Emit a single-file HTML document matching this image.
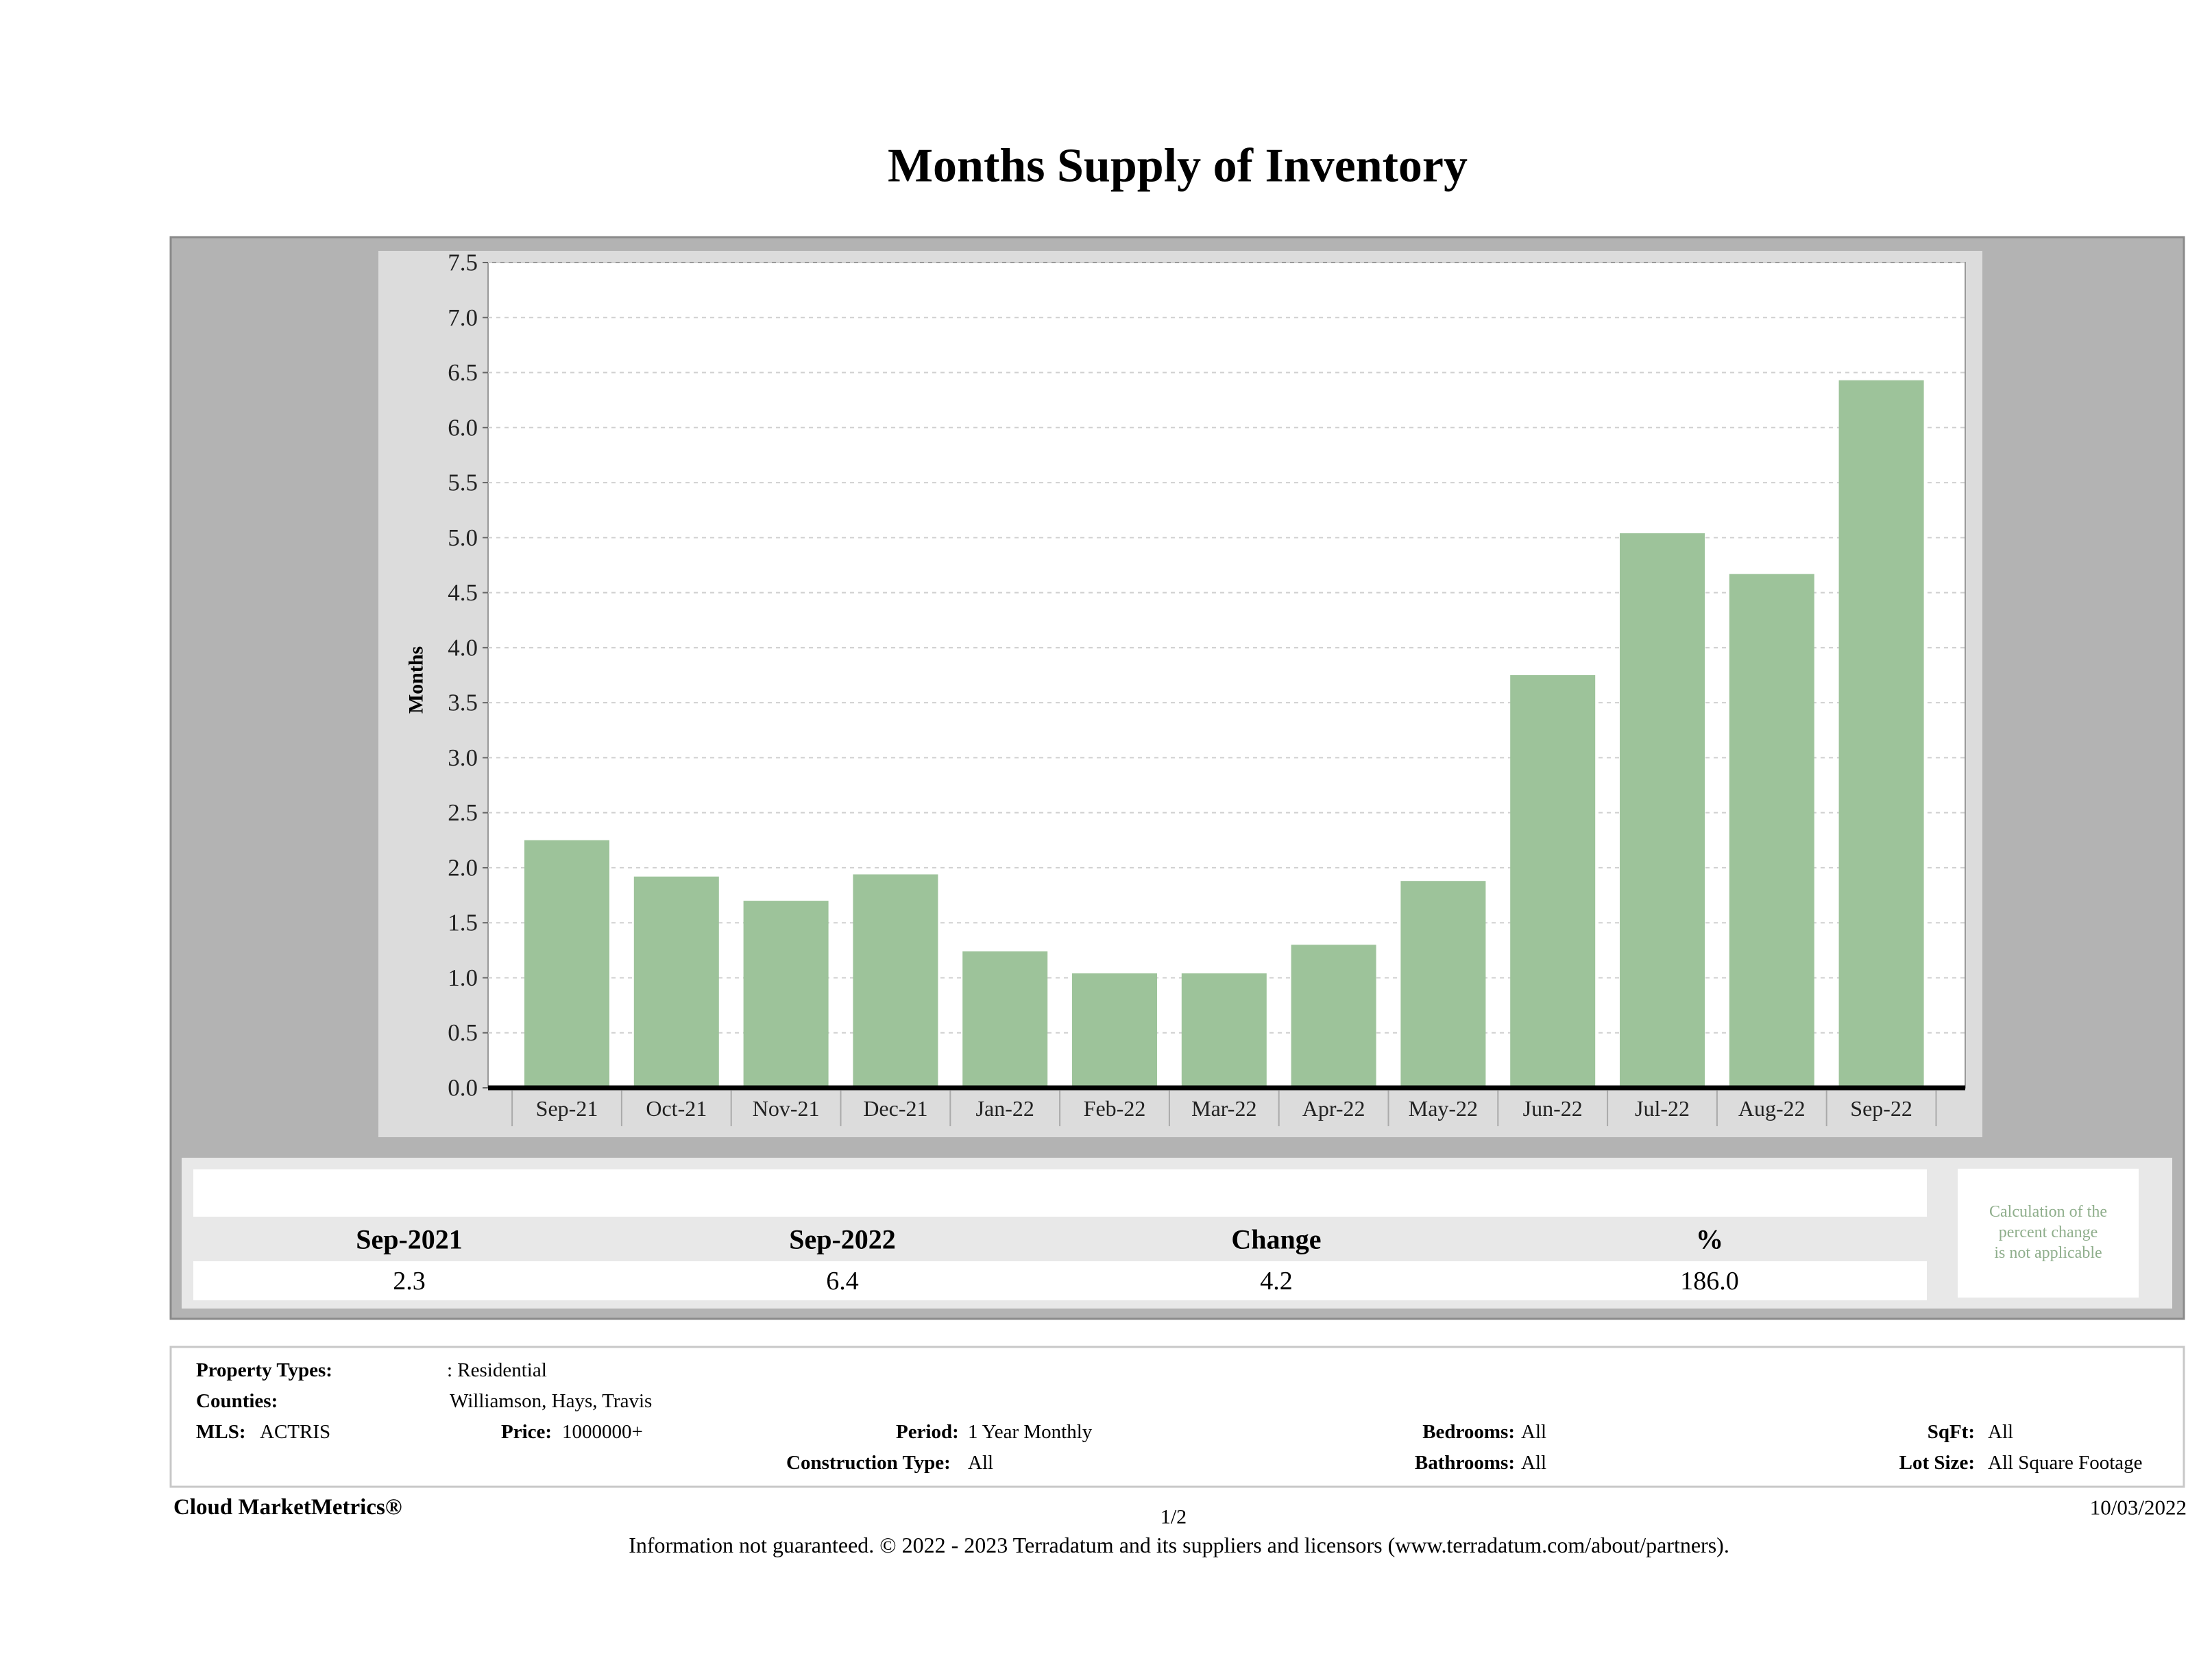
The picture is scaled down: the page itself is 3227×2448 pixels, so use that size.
<!DOCTYPE html>
<html><head><meta charset="utf-8"><style>
html,body{margin:0;padding:0;background:#fff;}
svg{display:block;font-family:"Liberation Serif",serif;}
</style></head><body>
<svg id="chart" width="3227" height="2448" viewBox="0 0 3227 2448" xmlns="http://www.w3.org/2000/svg">
<text x="1718" y="242" text-anchor="middle" dominant-baseline="central" font-size="70" font-weight="bold">Months Supply of Inventory</text>
<rect x="249" y="346" width="2937" height="1578" fill="#b3b3b3" stroke="#8a8a8a" stroke-width="3"/>
<rect x="552" y="366" width="2340" height="1293" fill="#dcdcdc"/>
<rect x="712" y="383" width="2155" height="1204" fill="#fff" stroke="#999" stroke-width="2"/>
<g id="grid"></g><g id="bars"></g><g id="yticks"></g><g id="xticks"></g>
<text transform="translate(607,992) rotate(-90)" text-anchor="middle" dominant-baseline="central" font-size="30" font-weight="bold">Months</text>
<rect x="265" y="1689" width="2904" height="220" fill="#e8e8e8"/>
<rect x="282" y="1706" width="2529" height="69" fill="#fff"/>
<rect x="282" y="1840" width="2529" height="57" fill="#fff"/>
<rect x="2856" y="1705" width="264" height="188" fill="#fff"/>
<g font-size="40" font-weight="bold" text-anchor="middle" dominant-baseline="central">
<text x="597" y="1808">Sep-2021</text>
<text x="1229" y="1808">Sep-2022</text>
<text x="1862" y="1808">Change</text>
<text x="2494" y="1808">%</text>
</g>
<g font-size="38" text-anchor="middle" dominant-baseline="central">
<text x="597" y="1869">2.3</text>
<text x="1229" y="1869">6.4</text>
<text x="1862" y="1869">4.2</text>
<text x="2494" y="1869">186.0</text>
</g>
<g font-size="24" fill="#8fae8c" text-anchor="middle" dominant-baseline="central">
<text x="2988" y="1768">Calculation of the</text>
<text x="2988" y="1798">percent change</text>
<text x="2988" y="1828">is not applicable</text>
</g>
<rect x="249" y="1965" width="2937" height="204" fill="#fff" stroke="#c8c8c8" stroke-width="3"/>
<g font-size="29" dominant-baseline="central">
<text x="286" y="1999" font-weight="bold">Property Types:</text><text x="652" y="1999">: Residential</text>
<text x="286" y="2044" font-weight="bold">Counties:</text><text x="656" y="2044">Williamson, Hays, Travis</text>
<text x="286" y="2089" font-weight="bold">MLS:</text><text x="379" y="2089">ACTRIS</text>
<text x="731" y="2089" font-weight="bold">Price:</text><text x="820" y="2089">1000000+</text>
<text x="1307" y="2089" font-weight="bold">Period:</text><text x="1412" y="2089">1 Year Monthly</text>
<text x="1147" y="2134" font-weight="bold">Construction Type:</text><text x="1412" y="2134">All</text>
<text x="2210" y="2089" font-weight="bold" text-anchor="end">Bedrooms:</text><text x="2219" y="2089">All</text>
<text x="2210" y="2134" font-weight="bold" text-anchor="end">Bathrooms:</text><text x="2219" y="2134">All</text>
<text x="2881" y="2089" font-weight="bold" text-anchor="end">SqFt:</text><text x="2900" y="2089">All</text>
<text x="2881" y="2134" font-weight="bold" text-anchor="end">Lot Size:</text><text x="2900" y="2134">All Square Footage</text>
</g>
<text x="253" y="2199" font-size="33" font-weight="bold" dominant-baseline="central">Cloud MarketMetrics®</text>
<text x="1712" y="2213" font-size="30" text-anchor="middle" dominant-baseline="central">1/2</text>
<text x="3190" y="2199" font-size="31" text-anchor="end" dominant-baseline="central">10/03/2022</text>
<text x="1720" y="2254" font-size="32" text-anchor="middle" dominant-baseline="central">Information not guaranteed. © 2022 - 2023 Terradatum and its suppliers and licensors (www.terradatum.com/about/partners).</text>
</svg>
<script>
const categories = ["Sep-21","Oct-21","Nov-21","Dec-21","Jan-22","Feb-22","Mar-22","Apr-22","May-22","Jun-22","Jul-22","Aug-22","Sep-22"];
const values = [2.25,1.92,1.70,1.94,1.24,1.04,1.04,1.30,1.88,3.75,5.04,4.67,6.43];
const yTicks = [0,0.5,1,1.5,2,2.5,3,3.5,4,4.5,5,5.5,6,6.5,7,7.5];
const yMax = 7.5;
const NS = "http://www.w3.org/2000/svg";
const plotLeft = 712, plotRight = 2867, plotTop = 383, plotBottom = 1587;
const firstCenter = 827, step = 159.8, barW = 124;
function y(v){ return plotBottom - v / yMax * (plotBottom - plotTop); }
function x(i){ return firstCenter + i * step; }
function mk(tag, attrs, parent){ const e = document.createElementNS(NS, tag); for (const k in attrs) e.setAttribute(k, attrs[k]); parent.appendChild(e); return e; }
const grid = document.getElementById("grid"), bars = document.getElementById("bars"), yt = document.getElementById("yticks"), xt = document.getElementById("xticks");
yTicks.forEach(function(t){
  if (t > 0) {
    const g = mk("line", {x1: plotLeft, x2: plotRight, y1: y(t), y2: y(t), stroke: "#d0d0d0", "stroke-width": 2, "stroke-dasharray": "6,6"}, grid);
    
    
  }
  const tk = mk("line", {x1: plotLeft - 8, x2: plotLeft, y1: y(t), y2: y(t), stroke: "#666", "stroke-width": 2}, yt);
  
  
  const lb = mk("text", {x: 697, y: y(t), "text-anchor": "end", "dominant-baseline": "central", "font-size": 35, fill: "#222"}, yt);
  lb.textContent = t.toFixed(1);
  
  
});
values.forEach(function(v, i){
  const b = mk("rect", {x: x(i) - barW/2, y: y(v), width: barW, height: plotBottom - y(v), fill: "#9dc39a"}, bars);
  
  
});
const axis = mk("line", {x1: plotLeft, x2: plotRight, y1: plotBottom, y2: plotBottom, stroke: "#000", "stroke-width": 7}, xt);


categories.forEach(function(c, i){
  const d = mk("line", {x1: x(i) - step/2, x2: x(i) - step/2, y1: plotBottom + 4, y2: 1643, stroke: "#aaa", "stroke-width": 2}, xt);
  
  
  const l = mk("text", {x: x(i), y: 1617, "text-anchor": "middle", "dominant-baseline": "central", "font-size": 32, fill: "#222"}, xt);
  l.textContent = c;
  
  
});
const last = mk("line", {x1: x(categories.length - 1) + step/2, x2: x(categories.length - 1) + step/2, y1: plotBottom + 4, y2: 1643, stroke: "#aaa", "stroke-width": 2}, xt);


</script>
</body></html>
